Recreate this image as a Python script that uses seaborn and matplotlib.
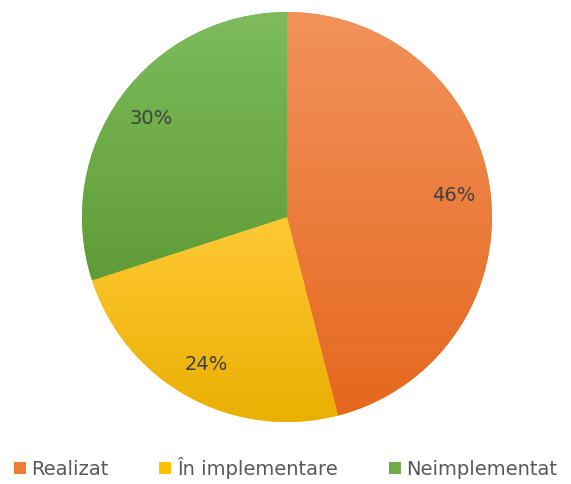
import numpy as np
import matplotlib
matplotlib.use("Agg")
import matplotlib.pyplot as plt
import seaborn as sns
from matplotlib.colors import LinearSegmentedColormap
from matplotlib.patches import Patch

categories = ["Realizat", "În implementare", "Neimplementat"]
values = [46, 24, 30]
colors_top = ["#F2925C", "#FFC935", "#7DBB5C"]
colors_bot = ["#E5681D", "#E9AE00", "#5E9D35"]
colors_mid = ["#ED7D31", "#FFC000", "#70AD47"]

sns.set_theme(style="white")
plt.rcParams['font.family'] = ['DejaVu Sans']

fig = plt.figure(figsize=(5.71, 4.84), dpi=100)
ax = fig.add_axes([0.1436, 0.1281, 0.718, 0.847])

wedges, texts, autotexts = ax.pie(
    values, colors=colors_mid, startangle=90, counterclock=False,
    autopct=lambda p: f"{p:.0f}%", pctdistance=0.82,
    wedgeprops=dict(linewidth=0), textprops=dict(color="#404040", fontsize=14))
ax.set_xlim(-1, 1)
ax.set_ylim(-1, 1)
ax.set_aspect("equal")
ax.axis("off")

grad = np.linspace(1, 0, 256).reshape(-1, 1)
fig.canvas.draw()
for w, ct, cb in zip(wedges, colors_top, colors_bot):
    verts = w.get_path().vertices
    ymin, ymax = verts[:, 1].min(), verts[:, 1].max()
    cmap = LinearSegmentedColormap.from_list("g", [cb, ct])
    im = ax.imshow(grad, cmap=cmap, extent=[-1, 1, ymin, ymax], origin="upper",
                   aspect="auto", zorder=w.get_zorder() + 0.1)
    im.set_clip_path(w)
for t in autotexts:
    t.set_zorder(10)
ax.set_xlim(-1, 1)
ax.set_ylim(-1, 1)

handles = [Patch(facecolor=c, edgecolor="none") for c in colors_mid]
fig.legend(handles, categories, loc="center", bbox_to_anchor=(0.5, 0.033),
           ncol=3, frameon=False, fontsize=14, handlelength=0.62, handleheight=0.62,
           handletextpad=0.3, columnspacing=2.6, labelcolor="#595959",
           borderpad=0, borderaxespad=0)

fig.savefig("out.png", dpi=100)
